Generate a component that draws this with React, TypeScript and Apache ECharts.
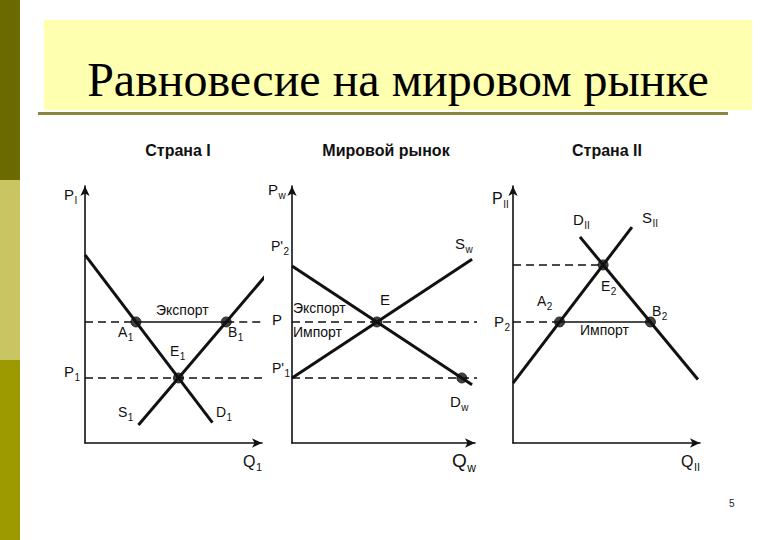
import React, { useEffect, useRef } from "react";
import * as echarts from "echarts";

// ---- Data (economic units on 0..10 price / quantity scales) ----
const worldPrice = 4.71; // P (world equilibrium price)
const autarkyPriceI = 2.53; // P1
const demandI = [[0, 7.32], [7.2, 0.79]];
const supplyI = [[3.02, 0.7], [10.28, 6.57]];
const pointsI = [[2.88, 4.71], [7.98, 4.71], [5.28, 2.53]]; // A1, B1, E1
const dashEndI = 10.34;

const worldPriceLow = 2.53; // P'1
const worldDemand = [[0, 6.89], [9.84, 2.27]];
const worldSupply = [[0, 2.53], [9.84, 7.15]];
const worldPoints = [[4.64, 4.71], [9.28, 2.53]]; // E, end of Dw
const dashEndW = 10.2;

const autarkyPriceII = 6.93; // E2 price
const demandII = [[3.58, 8.02], [9.89, 2.47]];
const supplyII = [[0, 2.33], [6.36, 8.4]];
const pointsII = [[2.49, 4.71], [7.35, 4.71], [4.82, 6.93]]; // A2, B2, E2

const panelTitles = ["Страна I", "Мировой рынок", "Страна II"];
const slideTitle = "Равновесие на мировом рынке";

const SANS = "Liberation Sans";
const SERIF = "Liberation Serif";
const INK = "#111";

let measureCtx: CanvasRenderingContext2D | null = null;
function textWidth(t: string, size: number, weight = "normal") {
  if (!measureCtx) measureCtx = document.createElement("canvas").getContext("2d");
  if (!measureCtx) return t.length * size * 0.6;
  measureCtx.font = `${weight} ${size}px "${SANS}"`;
  return measureCtx.measureText(t).width;
}

function txt(x: number, y: number, text: string, size: number, extra: any = {}) {
  return {
    type: "text",
    x,
    y,
    z: 100,
    style: {
      text,
      fill: INK,
      fontSize: size,
      fontFamily: SANS,
      textAlign: "left",
      align: "left",
      textVerticalAlign: "middle",
      verticalAlign: "middle",
      ...extra,
    },
  };
}

function sub(x: number, y: number, main: string, s: string, size = 14, subSize = 10): any[] {
  const w = textWidth(main, size);
  const els: any[] = [txt(x, y, main, size)];
  if (s) els.push(txt(x + w + 0.5, y + size * 0.4, s, subSize));
  return els;
}

function lineSeries(gi: number, data: number[][], width: number, dashed = false, z = 3) {
  return {
    type: "line",
    xAxisIndex: gi,
    yAxisIndex: gi,
    data,
    symbol: "none",
    clip: false,
    silent: true,
    animation: false,
    z,
    lineStyle: { color: INK, width, type: dashed ? [8, 5] : "solid" },
  };
}

function dots(gi: number, data: number[][]) {
  return {
    type: "scatter",
    xAxisIndex: gi,
    yAxisIndex: gi,
    data,
    symbolSize: 10,
    clip: false,
    silent: true,
    z: 6,
    itemStyle: { color: INK, borderColor: INK },
  };
}

export default function App() {
  const ref = useRef<HTMLDivElement>(null);
  useEffect(() => {
    if (!ref.current) return;
    const chart = echarts.init(ref.current, undefined, { renderer: "svg" });

    const grids = [
      { left: 85, top: 186, width: 177, height: 257 },
      { left: 292, top: 186, width: 183, height: 257 },
      { left: 513, top: 186, width: 187, height: 257 },
    ];
    const axisBase = (gi: number) => ({
      gridIndex: gi,
      type: "value",
      min: 0,
      max: 10,
      axisLine: {
        show: true,
        onZero: false,
        symbol: ["none", "arrow"],
        symbolSize: [7, 10],
        lineStyle: { color: INK, width: 1.6 },
      },
      axisTick: { show: false },
      axisLabel: { show: false },
      splitLine: { show: false },
    });

    const series: any[] = [
      // Country I
      lineSeries(0, demandI, 3),
      lineSeries(0, supplyI, 3),
      lineSeries(0, [[0, worldPrice], [pointsI[0][0], worldPrice]], 1.5, true, 2),
      lineSeries(0, [[pointsI[0][0], worldPrice], [pointsI[1][0], worldPrice]], 1.5, false, 2),
      lineSeries(0, [[pointsI[1][0], worldPrice], [dashEndI, worldPrice]], 1.5, true, 2),
      lineSeries(0, [[0, autarkyPriceI], [dashEndI, autarkyPriceI]], 1.5, true, 2),
      dots(0, pointsI),
      // World market
      lineSeries(1, worldDemand, 3),
      lineSeries(1, worldSupply, 3),
      lineSeries(1, [[0, worldPrice], [dashEndW, worldPrice]], 1.5, true, 2),
      lineSeries(1, [[0, worldPriceLow], [dashEndW, worldPriceLow]], 1.5, true, 2),
      dots(1, worldPoints),
      // Country II
      lineSeries(2, demandII, 3),
      lineSeries(2, supplyII, 3),
      lineSeries(2, [[0, autarkyPriceII], [pointsII[2][0], autarkyPriceII]], 1.5, true, 2),
      lineSeries(2, [[0, worldPrice], [pointsII[0][0], worldPrice]], 1.5, true, 2),
      lineSeries(2, [[pointsII[0][0], worldPrice], [pointsII[1][0], worldPrice]], 1.5, false, 2),
      dots(2, pointsII),
    ];

    const graphic: any[] = [
      // left decorative bars
      { type: "rect", shape: { x: 0, y: 0, width: 20, height: 180 }, style: { fill: "#6b6a00" }, z: 0 },
      { type: "rect", shape: { x: 0, y: 180, width: 20, height: 180 }, style: { fill: "#c9c562" }, z: 0 },
      { type: "rect", shape: { x: 0, y: 360, width: 20, height: 180 }, style: { fill: "#9d9a00" }, z: 0 },
      // title box
      { type: "rect", shape: { x: 44, y: 20, width: 708, height: 90 }, style: { fill: "#ffffb0" }, z: 0 },
      { type: "rect", shape: { x: 38, y: 112, width: 690, height: 3 }, style: { fill: "#8a8840" }, z: 1 },
      // slide title
      txt(398, 79, slideTitle, 48, {
        fontFamily: SERIF,
        fill: "#000",
        textAlign: "center",
        align: "center",
      }),
      // panel titles
      txt(178, 150, panelTitles[0], 16, { fontWeight: "bold", textAlign: "center", align: "center" }),
      txt(386, 150, panelTitles[1], 16, { fontWeight: "bold", textAlign: "center", align: "center" }),
      txt(607, 150, panelTitles[2], 16, { fontWeight: "bold", textAlign: "center", align: "center" }),
      // Country I labels
      ...sub(64, 194, "P", "I", 15),
      ...sub(64, 371, "P", "1", 15),
      txt(156, 310, "Экспорт", 14),
      ...sub(118, 332, "A", "1"),
      ...sub(228, 332, "B", "1"),
      ...sub(170, 351, "E", "1"),
      ...sub(118, 412, "S", "1"),
      ...sub(216, 412, "D", "1"),
      ...sub(243, 461, "Q", "1", 16, 11),
      // World labels
      ...sub(268, 189, "P", "w", 15),
      ...sub(271, 246, "P'", "2", 14),
      txt(272, 319, "P", 15),
      ...sub(272, 368, "P'", "1", 14),
      txt(293, 308, "Экспорт", 14),
      txt(293, 332, "Импорт", 14),
      txt(380, 299, "E", 15),
      ...sub(455, 243, "S", "w", 15),
      ...sub(450, 401, "D", "w", 15),
      ...sub(452, 460, "Q", "w", 19, 12),
      // Country II labels
      ...sub(492, 198, "P", "II", 16),
      ...sub(573, 219, "D", "II", 15),
      ...sub(642, 217, "S", "II", 15),
      ...sub(537, 301, "A", "2"),
      ...sub(601, 286, "E", "2"),
      ...sub(652, 311, "B", "2"),
      ...sub(494, 321, "P", "2", 15),
      txt(580, 330, "Импорт", 14),
      ...sub(681, 461, "Q", "II", 16, 11),
      // page number
      txt(729, 503, "5", 10, { fill: "#222" }),
    ];

    chart.setOption({
      animation: false,
      backgroundColor: "#ffffff",
      grid: grids,
      xAxis: [0, 1, 2].map((i) => axisBase(i)),
      yAxis: [0, 1, 2].map((i) => axisBase(i)),
      series,
      graphic,
    });
    return () => chart.dispose();
  }, []);

  return (
    <div
      ref={ref}
      style={{ position: "fixed", left: 0, top: 0, width: 780, height: 540, background: "#fff" }}
    />
  );
}
